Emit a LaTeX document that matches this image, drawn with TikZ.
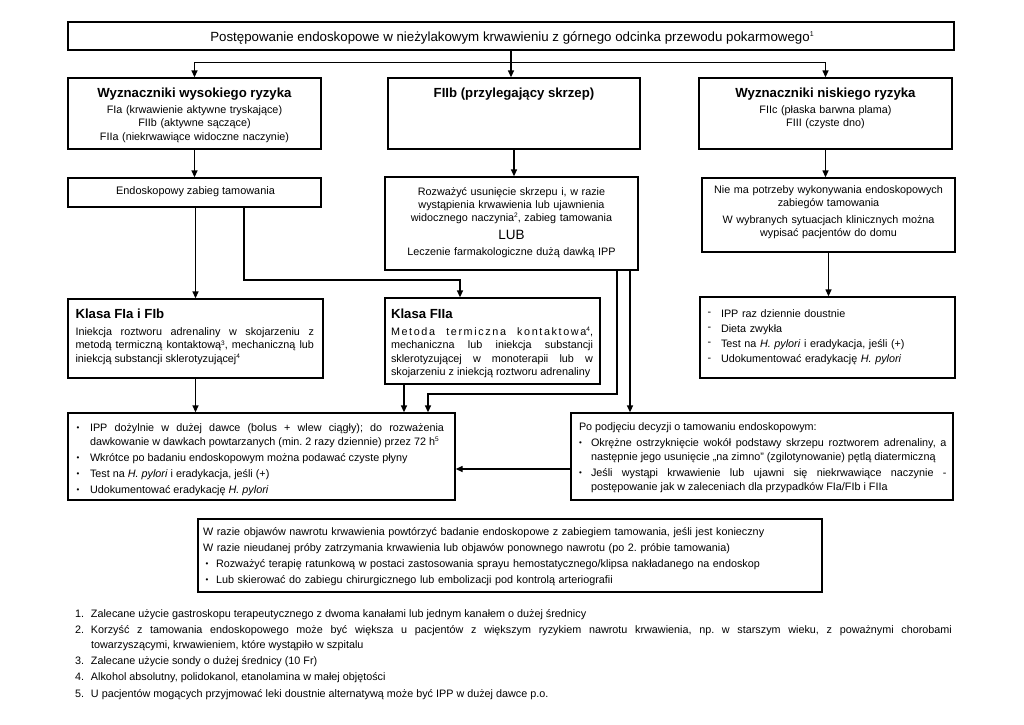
\documentclass[tikz,border=0pt]{standalone}
\usepackage{fontspec}
\setmainfont{Liberation Sans}
\usetikzlibrary{arrows.meta,fit}
\frenchspacing
\newcommand\fh{\fontsize{13.2}{16}\selectfont\bfseries}
\newcommand\sups[1]{\raisebox{0.55ex}{\fontsize{6.5}{6.5}\selectfont #1}}
\newcommand\bul{{\fontsize{8}{8}\selectfont\raisebox{0.6pt}{•}}}
\newcommand\bitem[2]{\hangindent=#1\hangafter=1\noindent\strut\makebox[#1][l]{\bul}#2\par}
\newcommand\ditem[1]{\hangindent=13.5pt\hangafter=1\noindent\strut\makebox[13.5pt][l]{\raisebox{1.8pt}{-}}#1\par}
\newcommand\fitem[2]{\hangindent=16pt\hangafter=1\noindent\strut\makebox[16pt][l]{#1}#2\par}
\newcommand\Hp{\textit{H. pylori}}
\begin{document}
\begin{tikzpicture}[x=1pt,y=-1pt,
 box/.style={draw=black,line width=1.3pt,inner sep=0pt},
 txt/.style={inner sep=0pt,outer sep=0pt},
 arr/.style={line width=1.3pt,-{Triangle[length=7pt,width=6pt]}},
 ln/.style={line width=1.3pt}]
\useasboundingbox (0,0) rectangle (1024,724);
% boxes
\node[box,fit={(68,22)(954,50)}] (title) {};
\node[box,fit={(68,78)(321,149)}] (hi) {};
\node[box,fit={(388,78)(640,149)}] (mid) {};
\node[box,fit={(699,78)(952,149)}] (lo) {};
\node[box,fit={(68,178)(321,207)}] (endo) {};
\node[box,fit={(385,177)(638,270)}] (roz) {};
\node[box,fit={(702,178)(955,252)}] (nie) {};
\node[box,fit={(68,299)(323,378)}] (kla) {};
\node[box,fit={(385,298)(600,384)}] (klb) {};
\node[box,fit={(700,297)(955,378)}] (lst) {};
\node[box,fit={(68,413)(455,500)}] (ipp) {};
\node[box,fit={(571,413)(953,500)}] (po) {};
\node[box,fit={(198,519)(822,592)}] (bot) {};
% texts
\node[txt,anchor=base,font=\fontsize{13.3}{16}\selectfont] (titleT) at (512,41) {Postępowanie endoskopowe w nieżylakowym krwawieniu z górnego odcinka przewodu pokarmowego\raisebox{0.6ex}{\fontsize{7}{7}\selectfont 1}};
\node[txt,anchor=north,text width=250pt,align=center,font=\fontsize{10.8}{13.5}\selectfont] (hiT) at (194.5,85.8) {{\fh\strut Wyznaczniki wysokiego ryzyka}\\[2.5pt]FIa (krwawienie aktywne tryskające)\\FIIb (aktywne sączące)\\FIIa (niekrwawiące widoczne naczynie)};
\node[txt,anchor=north,text width=250pt,align=center,font=\fontsize{10.8}{13.5}\selectfont] (midT) at (514,85.8) {{\fh\strut FIIb (przylegający skrzep)}};
\node[txt,anchor=north,text width=250pt,align=center,font=\fontsize{10.8}{13.5}\selectfont] (loT) at (825.5,85.8) {{\fh\strut Wyznaczniki niskiego ryzyka}\\[2.5pt]FIIc (płaska barwna plama)\\FIII (czyste dno)};
\node[txt,anchor=base,font=\fontsize{10.9}{13}\selectfont] (endoT) at (195.5,194.5) {Endoskopowy zabieg tamowania};
\node[txt,anchor=north,text width=245pt,align=center,font=\fontsize{10.8}{13}\selectfont] (rozT) at (511.5,185.9) {\strut Rozważyć usunięcie skrzepu i, w razie\\wystąpienia krwawienia lub ujawnienia\\widocznego naczynia\sups{2}, zabieg tamowania\\[5pt]{\fontsize{13.5}{13}\selectfont LUB}\\[3pt]Leczenie farmakologiczne dużą dawką IPP};
\node[txt,anchor=north,text width=245pt,align=center,font=\fontsize{10.8}{13}\selectfont] (nieT) at (828.5,183.9) {\strut Nie ma potrzeby wykonywania endoskopowych\\zabiegów tamowania\\[4pt]W wybranych sytuacjach klinicznych można\\wypisać pacjentów do domu};
\node[txt,anchor=north west,text width=238.5pt,align=justify,font=\fontsize{10.8}{13.5}\selectfont] (klaT) at (75.5,306.8) {{\fh\strut Klasa FIa i FIb}\\[3.5pt]Iniekcja roztworu adrenaliny w skojarzeniu z\linebreak metodą termiczną kontaktową\sups{3}, mechaniczną lub\linebreak iniekcją substancji sklerotyzującej\sups{4}};
\node[txt,anchor=north west,text width=202pt,align=justify,font=\fontsize{10.8}{13.5}\selectfont] (klbT) at (391,306.8) {{\fh\strut Klasa FIIa}\\[3.5pt]\makebox[\hsize][s]{\addfontfeature{LetterSpace=15}Metoda termiczna kontaktowa\sups{4},}\\mechaniczna lub iniekcja substancji\linebreak sklerotyzującej w monoterapii lub w\linebreak skojarzeniu z iniekcją roztworu adrenaliny};
\node[txt,anchor=north west,text width=240pt,align=left,font=\fontsize{10.8}{15.3}\selectfont] (lstT) at (707.5,306.3) {\ditem{IPP raz dziennie doustnie}\ditem{Dieta zwykła}\ditem{Test na \Hp{} i eradykacja, jeśli (+)}\ditem{Udokumentować eradykację \Hp}};
\node[txt,anchor=north west,text width=367.5pt,align=justify,font=\fontsize{10.8}{14}\selectfont] (ippT) at (76.5,421.2) {\setlength{\parskip}{2pt}\bitem{13.5pt}{IPP dożylnie w dużej dawce (bolus + wlew ciągły); do rozważenia\linebreak dawkowanie w dawkach powtarzanych (min. 2 razy dziennie) przez 72 h\sups{5}}\bitem{13.5pt}{Wkrótce po badaniu endoskopowym można podawać czyste płyny}\bitem{13.5pt}{Test na \Hp{} i eradykacja, jeśli (+)}\bitem{13.5pt}{Udokumentować eradykację \Hp}};
\node[txt,anchor=north west,text width=367.5pt,align=justify,font=\fontsize{10.8}{14}\selectfont] (poT) at (579,420.2) {\setlength{\parskip}{2pt}\noindent\strut Po podjęciu decyzji o tamowaniu endoskopowym:\par\bitem{12pt}{Okrężne ostrzyknięcie wokół podstawy skrzepu roztworem adrenaliny, a\linebreak następnie jego usunięcie „na zimno” (zgilotynowanie) pętlą diatermiczną}\bitem{12pt}{Jeśli wystąpi krwawienie lub ujawni się niekrwawiące naczynie -\linebreak postępowanie jak w zaleceniach dla przypadków FIa/FIb i FIIa}};
\node[txt,anchor=north west,text width=615pt,align=left,font=\fontsize{10.8}{16}\selectfont] (botT) at (203,523.8) {\noindent\strut W razie objawów nawrotu krwawienia powtórzyć badanie endoskopowe z zabiegiem tamowania, jeśli jest konieczny\par\noindent W razie nieudanej próby zatrzymania krwawienia lub objawów ponownego nawrotu (po 2. próbie tamowania)\par\noindent\hspace*{2.5pt}\makebox[10.5pt][l]{\bul}Rozważyć terapię ratunkową w postaci zastosowania sprayu hemostatycznego/klipsa nakładanego na endoskop\par\noindent\hspace*{2.5pt}\makebox[10.5pt][l]{\bul}Lub skierować do zabiegu chirurgicznego lub embolizacji pod kontrolą arteriografii};
\node[txt,anchor=north west,text width=877pt,align=justify,font=\fontsize{10.8}{15.2}\selectfont] (fnT) at (75,606.5) {\setlength{\parskip}{1pt}\fitem{1.}{Zalecane użycie gastroskopu terapeutycznego z dwoma kanałami lub jednym kanałem o dużej średnicy}\fitem{2.}{Korzyść z tamowania endoskopowego może być większa u pacjentów z większym ryzykiem nawrotu krwawienia, np. w starszym wieku, z poważnymi chorobami\linebreak towarzyszącymi, krwawieniem, które wystąpiło w szpitalu}\fitem{3.}{Zalecane użycie sondy o dużej średnicy (10 Fr)}\fitem{4.}{Alkohol absolutny, polidokanol, etanolamina w małej objętości}\fitem{5.}{U pacjentów mogących przyjmować leki doustnie alternatywą może być IPP w dużej dawce p.o.}};
% connectors
\draw[ln] (title.south) -- ++(0,12) coordinate (sp);
\draw[arr] (sp) -| (hi.north);
\draw[arr] (sp) -| (lo.north);
\draw[arr] (sp) -- (sp |- mid.north);
\draw[arr] (hi.south) -- (hi.south |- endo.north);
\draw[arr] (mid.south) -- (mid.south |- roz.north);
\draw[arr] (lo.south) -- (lo.south |- nie.north);
\draw[arr] (kla.north |- endo.south) -- (kla.north);
\coordinate (e1) at (244,280);
\draw[arr] (endo.south -| e1) -- (e1) -| ([xshift=-32.5pt]klb.north);
\coordinate (r1) at (617,394);
\draw[arr] (roz.south -| r1) -- (r1) -| (ipp.north -| 428,0);
\draw[arr] (roz.south -| 630,0) -- (po.north -| 630,0);
\draw[arr] (kla.south) -- (kla.south |- ipp.north);
\draw[arr] (klb.south -| 404,0) -- (ipp.north -| 404,0);
\draw[arr] (nie.south) -- (nie.south |- lst.north);
\draw[arr] (po.west |- 0,469) -- (ipp.east |- 0,469);
\end{tikzpicture}
\end{document}
